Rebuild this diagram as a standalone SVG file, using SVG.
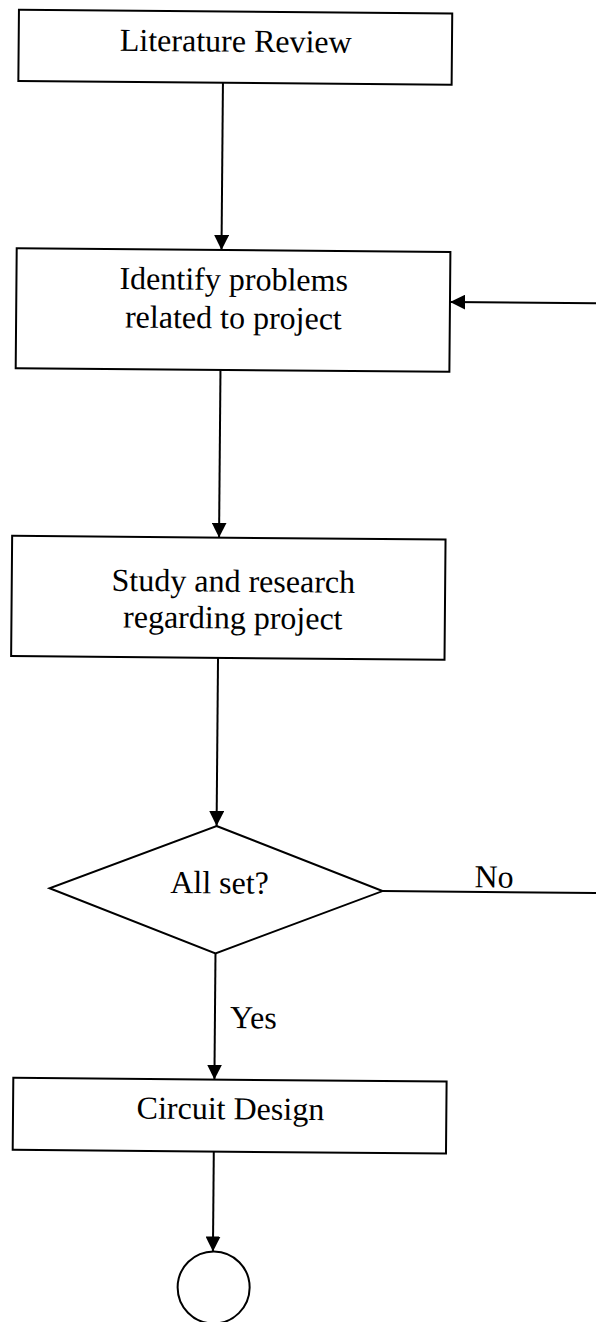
<svg xmlns="http://www.w3.org/2000/svg" width="596" height="1322" viewBox="0 0 596 1322">
  <style>
    .box { fill: #ffffff; stroke: #000000; stroke-width: 2; }
    .edge { fill: none; stroke: #000000; stroke-width: 2; }
    .lbl { font-family: "Liberation Serif", "Times New Roman", serif; font-size: 32px; fill: #000000; text-anchor: middle; }
  </style>
  <defs>
    <marker id="arrow" markerUnits="userSpaceOnUse" markerWidth="16" markerHeight="15" refX="15" refY="7.5" orient="auto">
      <path d="M0,0 L15,7.5 L0,15 z" fill="#000000"/>
    </marker>
  </defs>
  <rect width="596" height="1322" fill="#ffffff"/>
  <g transform="rotate(0.49 220 660)">
    <g id="connectors">
      <line class="edge" x1="218" y1="83" x2="218" y2="250" marker-end="url(#arrow)"/>
      <line class="edge" x1="218" y1="370" x2="218" y2="537.6" marker-end="url(#arrow)"/>
      <line class="edge" x1="218" y1="658" x2="218" y2="826" marker-end="url(#arrow)"/>
      <line class="edge" x1="218" y1="953.4" x2="218" y2="1079.6" marker-end="url(#arrow)"/>
      <line class="edge" x1="218" y1="1151.6" x2="218" y2="1251.5" marker-end="url(#arrow)"/>
      <line class="edge" x1="384.5" y1="889.7" x2="615" y2="889.7"/>
      <line class="edge" x1="615" y1="300" x2="447" y2="300" marker-end="url(#arrow)"/>
      <text class="lbl" x="496" y="885">No</text>
      <text class="lbl" x="256.5" y="1028">Yes</text>
    </g>
    <g id="literature-review">
      <rect class="box" x="13.4" y="11.5" width="433.3" height="71.2"/>
      <text class="lbl" x="230.5" y="51.6">Literature Review</text>
    </g>
    <g id="identify-problems">
      <rect class="box" x="13.2" y="250" width="433.7" height="119.9"/>
      <text class="lbl" x="230.5" y="289.9">Identify problems</text>
      <text class="lbl" x="230.5" y="328.3">related to project</text>
    </g>
    <g id="study-research">
      <rect class="box" x="11.1" y="537.6" width="433.4" height="120.3"/>
      <text class="lbl" x="232.7" y="591.7">Study and research</text>
      <text class="lbl" x="232.5" y="628.3">regarding project</text>
    </g>
    <g id="all-set">
      <polygon class="box" points="218,826 384.5,889.7 218,953.4 51.5,889.7"/>
      <text class="lbl" x="221.5" y="893.3">All set?</text>
    </g>
    <g id="circuit-design">
      <rect class="box" x="16.9" y="1079.6" width="433.3" height="72"/>
      <text class="lbl" x="234.3" y="1119.2">Circuit Design</text>
    </g>
    <g id="end">
      <circle class="box" cx="219" cy="1287.5" r="36"/>
    </g>
  </g>
</svg>
